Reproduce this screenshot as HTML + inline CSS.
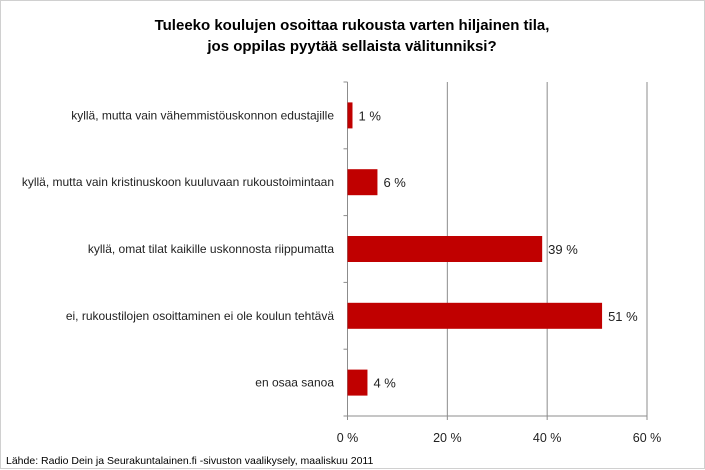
<!DOCTYPE html>
<html><head><meta charset="utf-8"><style>
body{margin:0;background:#fff;}
svg{display:block;font-family:"Liberation Sans",Arial,sans-serif;}
</style></head><body>
<svg width="705" height="470">
<rect x="0.5" y="0.5" width="704" height="468" fill="#fff" stroke="#d0d0d0"/>
<text x="352" y="30" text-anchor="middle" font-size="15" font-weight="bold">Tuleeko koulujen osoittaa rukousta varten hiljainen tila,</text>
<text x="352" y="51" text-anchor="middle" font-size="15" font-weight="bold">jos oppilas pyytää sellaista välitunniksi?</text>
<g id="plot"></g>
<text x="6" y="464" font-size="10.5">Lähde: Radio Dein ja  Seurakuntalainen.fi -sivuston vaalikysely, maaliskuu 2011</text>
</svg>
<script>
const categories=["kyllä, mutta vain vähemmistöuskonnon edustajille","kyllä, mutta vain kristinuskoon kuuluvaan rukoustoimintaan","kyllä, omat tilat kaikille uskonnosta riippumatta","ei, rukoustilojen osoittaminen ei ole koulun tehtävä","en osaa sanoa"];
const values=[1,6,39,51,4];
const valueLabels=["1 %","6 %","39 %","51 %","4 %"];
const ticks=[0,20,40,60];
const tickLabels=["0 %","20 %","40 %","60 %"];
const NS="http://www.w3.org/2000/svg";
const g=document.getElementById("plot");
const x0=347.5,x1=647,yTop=82,yBottom=416;
const xs=v=>x0+(v-0)/(60-0)*(x1-x0);
const band=(yBottom-yTop)/categories.length;
function mk(t,a,txt){const e=document.createElementNS(NS,t);for(const k in a)e.setAttribute(k,a[k]);if(txt!==undefined)e.textContent=txt;g.appendChild(e);return e;}
ticks.forEach((t,i)=>{
 if(t>0){const l=mk("line",{x1:xs(t),x2:xs(t),y1:yTop,y2:yBottom,stroke:"#8c8c8c","stroke-width":1});
 
 }
 const tk=mk("line",{x1:xs(t),x2:xs(t),y1:yBottom,y2:yBottom+4,stroke:"#8c8c8c"});
 
 
 const tl=mk("text",{x:xs(t),y:yBottom+26,"text-anchor":"middle","font-size":"12.5",fill:"#222"},tickLabels[i]);
 
 
});
const ax=mk("line",{x1:x0,x2:x0,y1:yTop,y2:yBottom,stroke:"#8c8c8c"});


const bx=mk("line",{x1:x0-4,x2:x1,y1:yBottom,y2:yBottom,stroke:"#8c8c8c"});


for(let i=0;i<=categories.length;i++){
 const t=mk("line",{x1:x0-4,x2:x0,y1:yTop+i*band,y2:yTop+i*band,stroke:"#8c8c8c"});
 
 
}
categories.forEach((c,i)=>{
 const cy=yTop+band*(i+0.5);
 const lab=mk("text",{x:334,y:cy+4,"text-anchor":"end","font-size":"12",fill:"#222"},c);
 
 
 const b=mk("rect",{x:x0,y:cy-13,width:xs(values[i])-x0,height:26,fill:"#c00000"});
 
 
 const v=mk("text",{x:xs(values[i])+6,y:cy+5,"font-size":"13",fill:"#222"},valueLabels[i]);
 
 
});
</script>
</body></html>
